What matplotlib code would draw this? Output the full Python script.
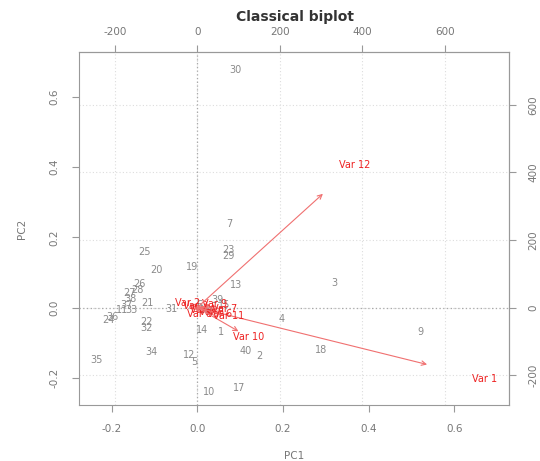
import matplotlib
matplotlib.use("Agg")
import matplotlib.pyplot as plt

plt.rcParams["axes.unicode_minus"] = False

# observation scores (PC1, PC2) and their labels
obs_labels = ["1", "2", "3", "4", "5", "6", "7", "8", "9", "10",
              "11", "12", "13", "14", "15", "16", "17", "18", "19", "20",
              "21", "22", "23", "24", "25", "26", "27", "28", "29", "30",
              "31", "32", "33", "34", "35", "36", "37", "38", "39", "40"]
pc1 = [0.056, 0.146, 0.321, 0.196, -0.007, 0.005, 0.074, 0.028, 0.520, 0.028,
       -0.176, -0.019, 0.090, 0.012, 0.062, 0.019, 0.097, 0.289, -0.012, -0.095,
       -0.116, -0.118, 0.072, -0.208, -0.123, -0.134, -0.157, -0.139, 0.072, 0.090,
       -0.060, -0.118, -0.153, -0.106, -0.234, -0.197, -0.164, -0.157, 0.046, 0.113]
pc2 = [-0.070, -0.138, 0.070, -0.034, -0.155, 0.006, 0.239, -0.014, -0.070, -0.240,
       -0.008, -0.135, 0.065, -0.065, 0.006, -0.008, -0.230, -0.121, 0.115, 0.107,
       0.014, -0.042, 0.163, -0.037, 0.157, 0.067, 0.042, 0.051, 0.146, 0.677,
       -0.003, -0.059, -0.008, -0.126, -0.149, -0.028, 0.006, 0.025, 0.020, -0.124]

# variable loadings (secondary axis units)
var_labels = ["Var 1", "Var 2", "Var 3", "Var 4", "Var 5", "Var 6",
              "Var 7", "Var 8", "Var 9", "Var 10", "Var 11", "Var 12"]
load1 = [697, -24, -5, 14, 34, 53, 67, 5, 41, 125, 77, 381]
load2 = [-211, 12, 3, -6, -12, -20, -3, -18, 9, -88, -26, 421]

ratio = 1040
lim = (-0.277, 0.727)
grey = "#8a8a8a"
red = "#ee2222"

fig = plt.figure(figsize=(5.4, 4.61), dpi=100)
ax = fig.add_axes([0.1454, 0.122, 0.797, 0.7646])
ax.set_xlim(lim)
ax.set_ylim(lim)

# light grid at secondary ticks, dotted zero lines
for v in [-200, 0, 200, 400, 600]:
    ax.axvline(v / ratio, color="#dddddd", lw=0.8, ls=(0, (1, 2)), zorder=0)
    ax.axhline(v / ratio, color="#dddddd", lw=0.8, ls=(0, (1, 2)), zorder=0)
ax.axvline(0, color="#aaaaaa", lw=0.9, ls=(0, (1, 2)), zorder=0)
ax.axhline(0, color="#aaaaaa", lw=0.9, ls=(0, (1, 2)), zorder=0)

for lab, x, y in zip(obs_labels, pc1, pc2):
    ax.text(x, y, lab, color=grey, fontsize=7, ha="center", va="center")

for lab, x, y in zip(var_labels, load1, load2):
    ax.annotate("", xy=(0.8 * x / ratio, 0.8 * y / ratio), xytext=(0, 0),
                arrowprops=dict(arrowstyle="->", color="#f07070", lw=0.8,
                                mutation_scale=8, shrinkA=0, shrinkB=0))
    ax.text(x / ratio, y / ratio, lab, color=red, fontsize=7,
            ha="center", va="center")

for s in ax.spines.values():
    s.set_color("#999999")
ax.set_xticks([-0.2, 0.0, 0.2, 0.4, 0.6])
ax.set_yticks([-0.2, 0.0, 0.2, 0.4, 0.6])
ax.set_yticklabels(["-0.2", "0.0", "0.2", "0.4", "0.6"], rotation=90, va="center")
ax.tick_params(colors="#999999", labelcolor="#777777", labelsize=7.5, length=5, pad=9)

top = ax.secondary_xaxis("top", functions=(lambda v: v * ratio, lambda v: v / ratio))
top.set_xticks([-200, 0, 200, 400, 600])
top.tick_params(colors="#999999", labelcolor="#777777", labelsize=7.5, length=5, pad=6)
right = ax.secondary_yaxis("right", functions=(lambda v: v * ratio, lambda v: v / ratio))
right.set_yticks([-200, 0, 200, 400, 600])
right.set_yticklabels(["-200", "0", "200", "400", "600"], rotation=90, va="center")
right.tick_params(colors="#999999", labelcolor="#777777", labelsize=7.5, length=5, pad=9)
for sp in list(top.spines.values()) + list(right.spines.values()):
    sp.set_color("#999999")

ax.set_xlabel("PC1", color="#777777", fontsize=7.5, labelpad=12)
ax.set_ylabel("PC2", color="#777777", fontsize=7.5, labelpad=16)
fig.text(0.547, 0.963, "Classical biplot", ha="center", va="center",
         fontsize=10, fontweight="bold", color="#333333")

fig.savefig("out.png", dpi=100)
